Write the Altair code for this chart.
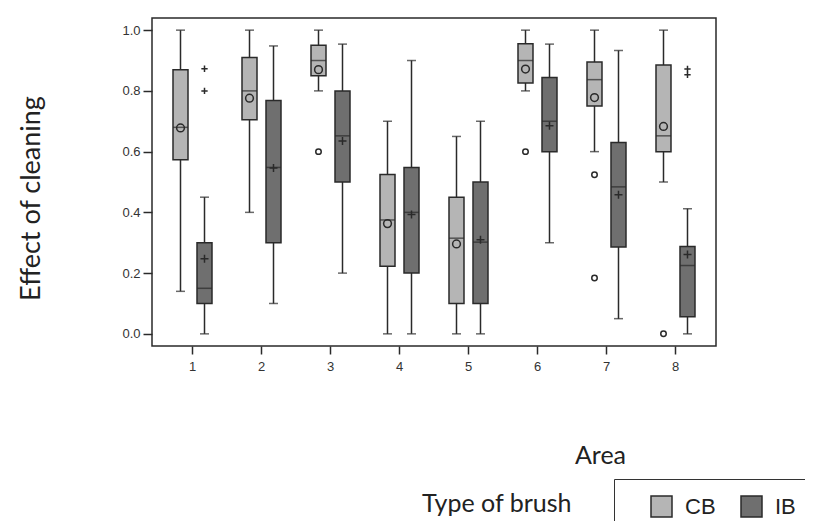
import altair as alt
import pandas as pd

areas = [1, 2, 3, 4, 5, 6, 7, 8]
brushes = ["CB", "IB"]

cb_hi = [1.0, 1.0, 1.0, 0.70, 0.65, 1.0, 1.0, 1.0]
cb_q3 = [0.87, 0.91, 0.95, 0.525, 0.45, 0.955, 0.895, 0.885]
cb_med = [0.68, 0.80, 0.90, 0.375, 0.315, 0.90, 0.837, 0.652]
cb_mean = [0.678, 0.776, 0.87, 0.363, 0.296, 0.872, 0.778, 0.683]
cb_q1 = [0.573, 0.705, 0.85, 0.223, 0.10, 0.826, 0.75, 0.60]
cb_lo = [0.14, 0.40, 0.80, 0.0, 0.0, 0.80, 0.60, 0.50]

ib_hi = [0.45, 0.948, 0.954, 0.90, 0.70, 0.954, 0.933, 0.412]
ib_q3 = [0.30, 0.768, 0.80, 0.548, 0.50, 0.844, 0.63, 0.288]
ib_med = [0.15, 0.548, 0.652, 0.40, 0.302, 0.70, 0.484, 0.225]
ib_mean = [0.247, 0.546, 0.635, 0.393, 0.31, 0.685, 0.458, 0.261]
ib_q1 = [0.10, 0.30, 0.50, 0.20, 0.10, 0.60, 0.286, 0.056]
ib_lo = [0.0, 0.10, 0.20, 0.0, 0.0, 0.30, 0.05, 0.0]

out_area = [3, 6, 7, 7, 8, 1, 1, 8, 8]
out_brush = ["CB", "CB", "CB", "CB", "CB", "IB", "IB", "IB", "IB"]
out_value = [0.60, 0.60, 0.524, 0.184, 0.0, 0.873, 0.80, 0.872, 0.853]

colors = ["#b5b5b5", "#6f6f6f"]
plus_path = "M-1,0L1,0M0,-1L0,1"

rows = []
for i, a in enumerate(areas):
    rows.append(dict(area=str(a), brush="CB", lo=cb_lo[i], q1=cb_q1[i], med=cb_med[i],
                     mean=cb_mean[i], q3=cb_q3[i], hi=cb_hi[i]))
    rows.append(dict(area=str(a), brush="IB", lo=ib_lo[i], q1=ib_q1[i], med=ib_med[i],
                     mean=ib_mean[i], q3=ib_q3[i], hi=ib_hi[i]))
box_df = pd.DataFrame(rows)
out_df = pd.DataFrame({"area": [str(a) for a in out_area], "brush": out_brush, "value": out_value})
lab_df = pd.DataFrame({"t": ["Type of brush"]})

dark = "#2a2a2a"

x_enc = alt.X("area:N", sort=[str(a) for a in areas],
              scale=alt.Scale(paddingInner=0, paddingOuter=0.087),
              axis=alt.Axis(title="Area", labelAngle=0, domain=False, tickSize=8, tickColor=dark,
                            tickWidth=1.5, labelFont="Liberation Sans", labelFontSize=13,
                            labelColor="#333", labelPadding=6,
                            titleFont="Lato", titleFontSize=25, titleFontWeight="normal",
                            titleColor="#222", titleX=448, titleY=117,
                            titleBaseline="alphabetic", titleAlign="center"))
xo_enc = alt.XOffset("brush:N", sort=brushes,
                     scale=alt.Scale(domain=brushes, paddingInner=0.375, paddingOuter=0.625))
y_scale = alt.Scale(domain=[-0.04, 1.04], nice=False, zero=False)
y_axis = alt.Axis(title="Effect of cleaning", values=[0, 0.2, 0.4, 0.6, 0.8, 1.0], format=".1f",
                  grid=False, domain=False, tickSize=9, tickColor=dark, tickWidth=1.5,
                  labelFont="Liberation Sans", labelFontSize=13, labelColor="#333", labelPadding=3,
                  titleFont="Lato", titleFontSize=27, titleFontWeight="normal", titleColor="#222",
                  titleX=-107, titleY=180)

base = alt.Chart(box_df)

whisk = base.mark_rule(color=dark, strokeWidth=1.5).encode(
    x=x_enc, xOffset=xo_enc,
    y=alt.Y("lo:Q", scale=y_scale, axis=y_axis), y2="hi:Q")

boxes = base.mark_bar(stroke=dark, strokeWidth=1.5).encode(
    x=x_enc, xOffset=xo_enc,
    y=alt.Y("q1:Q", scale=y_scale), y2="q3:Q",
    color=alt.Color("brush:N", scale=alt.Scale(domain=brushes, range=colors),
                    legend=alt.Legend(orient="none", legendX=462, legendY=461,
                                      direction="horizontal", title="\u2003", titleOrient="left",
                                      titleFontSize=10, titlePadding=20, padding=16,
                                      strokeColor="#333", labelFont="Liberation Sans",
                                      labelFontSize=22, labelColor="#222", labelOffset=12,
                                      columnPadding=22, symbolType="square", symbolSize=441,
                                      symbolStrokeColor=dark, symbolStrokeWidth=1.5,
                                      symbolOpacity=1)))

cap_lo = base.mark_tick(color=dark, size=9, thickness=1.5).encode(
    x=x_enc, xOffset=xo_enc, y=alt.Y("lo:Q", scale=y_scale))
cap_hi = base.mark_tick(color=dark, size=9, thickness=1.5).encode(
    x=x_enc, xOffset=xo_enc, y=alt.Y("hi:Q", scale=y_scale))
medians = base.mark_tick(color=dark, size=15, thickness=1.5).encode(
    x=x_enc, xOffset=xo_enc, y=alt.Y("med:Q", scale=y_scale))

means_cb = base.transform_filter(alt.datum.brush == "CB").mark_point(
    shape="circle", filled=False, color=dark, strokeWidth=1.5, size=60, opacity=1).encode(
    x=x_enc, xOffset=xo_enc, y=alt.Y("mean:Q", scale=y_scale))
means_ib = base.transform_filter(alt.datum.brush == "IB").mark_point(
    shape=plus_path, filled=False, color=dark, strokeWidth=1.5, size=64, opacity=1).encode(
    x=x_enc, xOffset=xo_enc, y=alt.Y("mean:Q", scale=y_scale))

outs_base = alt.Chart(out_df)
outs_cb = outs_base.transform_filter(alt.datum.brush == "CB").mark_point(
    shape="circle", filled=False, color=dark, strokeWidth=1.5, size=30, opacity=1).encode(
    x=x_enc, xOffset=xo_enc, y=alt.Y("value:Q", scale=y_scale))
outs_ib = outs_base.transform_filter(alt.datum.brush == "IB").mark_point(
    shape=plus_path, filled=False, color=dark, strokeWidth=1.5, size=40, opacity=1).encode(
    x=x_enc, xOffset=xo_enc, y=alt.Y("value:Q", scale=y_scale))

label = alt.Chart(lab_df).mark_text(font="Lato", fontSize=25, color="#222", align="left",
                                    baseline="alphabetic").encode(
    x=alt.value(270), y=alt.value(494), text="t:N")

chart = alt.layer(whisk, boxes, cap_lo, cap_hi, medians, means_cb, means_ib,
                  outs_cb, outs_ib, label).properties(
    width=564, height=328,
    padding={"left": 144, "top": 10, "right": 89, "bottom": 175},
    autosize=alt.AutoSizeParams(type="none"),
).configure_view(stroke=dark, strokeWidth=1.5).configure_axis(labelFlush=False)

chart.save("out.html", embed_options={"renderer": "svg", "actions": False})
